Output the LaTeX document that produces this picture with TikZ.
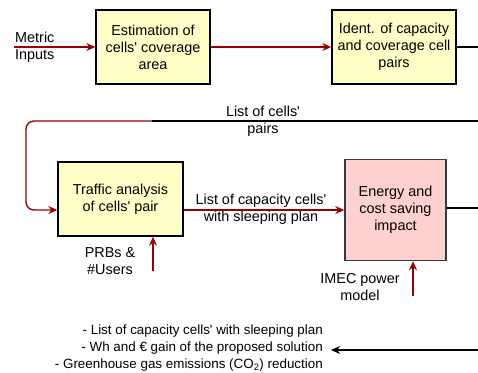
\documentclass[tikz,border=0pt]{standalone}
\usepackage{fontspec}
\setmainfont{Liberation Sans}[Ligatures=TeXOff]
\usetikzlibrary{arrows.meta}

\definecolor{boxyellow}{HTML}{FFFFC8}
\definecolor{boxpink}{HTML}{FFD0D0}
\definecolor{flowred}{HTML}{990000}
\definecolor{pinkline}{HTML}{36393D}

\tikzset{
  stage/.style={draw, line width=1.4pt, fill=boxyellow, align=center,
    inner sep=0pt, font=\fontsize{14.4}{17}\selectfont},
  txt/.style={align=center, inner sep=0pt, font=\fontsize{14.4}{17}\selectfont},
  redflow/.style={draw=flowred, line width=1.4pt, -{Stealth[length=9pt,width=8pt]}},
  blackflow/.style={draw=black, line width=1.4pt}
}

\begin{document}
\begin{tikzpicture}[x=1pt,y=-1pt]
  \useasboundingbox (0,0) rectangle (478,372);
  % blocks
  \node[stage, minimum width=114pt, minimum height=74pt] (estim) at (153,47)
    {Estimation of\\cells' coverage\\area};
  \node[stage, minimum width=124pt, minimum height=74pt] (ident) at (394,47)
    {Ident. of capacity\\and coverage cell\\pairs};
  \node[stage, minimum width=125pt, minimum height=74pt] (traffic) at (120.5,199)
    {Traffic analysis\\of cells' pair};
  \node[stage, draw=pinkline, fill=boxpink, minimum width=101pt, minimum height=101pt]
    (saving) at (395.5,210) {Energy and\\cost saving\\impact};
  % inputs and labels
  \node[txt, anchor=west, align=left] (metric) at (15,47.5) {Metric\\Inputs};
  \node[txt] (pairslbl) at (263,121.5) {List of cells'\\pairs};
  \node[txt] (planlbl) at (261,209) {List of capacity cells'\\with sleeping plan};
  \node[txt] (prbs) at (110,261.5) {PRBs \&\\\#Users};
  \node[txt] (imec) at (360,287) {IMEC power\\model};
  \node[txt, anchor=east, align=right, font=\fontsize{13.4}{17}\selectfont] (result) at (323,348)
    {- List of capacity cells' with sleeping plan\\
     - Wh and € gain of the proposed solution\\
     - Greenhouse gas emissions (CO\textsubscript{2}) reduction};
  % free ends
  \coordinate (metricIn) at (14,47);
  \coordinate (identOut) at (478,47);
  \coordinate (pairsR) at (478,121);
  \coordinate (pairsM) at (152,121);
  \coordinate (loopL) at (26,121);
  \coordinate (savingOut) at (478,208);
  \coordinate (prbsIn) at (153,271);
  \coordinate (imecIn) at (413,296);
  \coordinate (resultR) at (478,350);
  \coordinate (resultL) at (331,350);
  % connectors
  \draw[redflow] (metricIn) -- (estim.west);
  \draw[redflow] (estim.east) -- (ident.west);
  \draw[blackflow] (ident.east) -- (identOut);
  \draw[blackflow] (pairsR) -- (pairsM);
  \draw[redflow, rounded corners=8pt] (pairsM) -- (loopL) |- (traffic.west |- saving.west);
  \draw[redflow] (traffic.east |- saving.west) -- (saving.west);
  \draw[blackflow] (saving.east |- savingOut) -- (savingOut);
  \draw[redflow] (prbsIn) -- (prbsIn |- traffic.south);
  \draw[redflow] (imecIn) -- (imecIn |- saving.south);
  \draw[blackflow, -{Stealth[length=9pt,width=8pt]}] (resultR) -- (resultL);
\end{tikzpicture}
\end{document}
